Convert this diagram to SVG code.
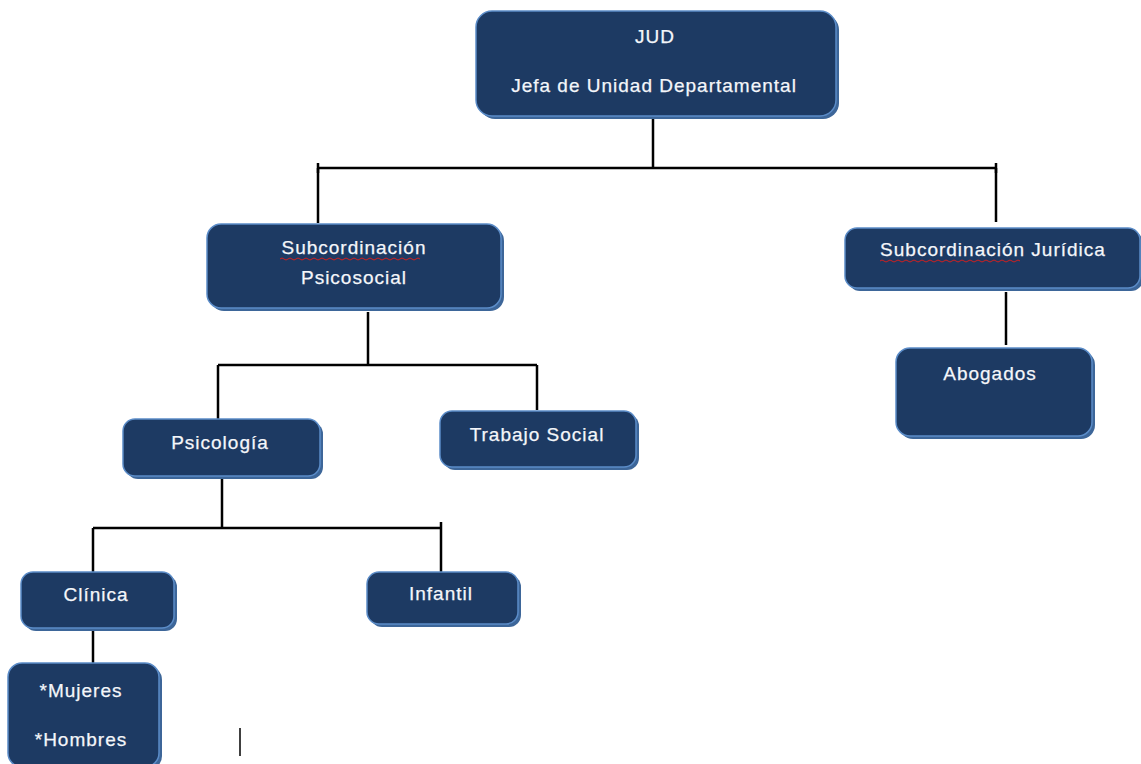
<svg xmlns="http://www.w3.org/2000/svg" width="1141" height="764" viewBox="0 0 1141 764">
<style>
.box{fill:#1d3a63;stroke:#5b8cc8;stroke-width:1.5}
.sh{fill:#3d6699}
.t{font-family:"Liberation Sans",Arial,sans-serif;font-size:19px;letter-spacing:1px;fill:#f4f6fa;stroke:#f4f6fa;stroke-width:0.25;text-anchor:middle}
.c{stroke:#000;stroke-width:2.5;fill:none}
.w{stroke:#d02020;stroke-width:1;fill:none}
</style>
<rect width="1141" height="764" fill="#ffffff"/>
<g id="connectors">
<path class="c" d="M653 116V168M318 168H996M318 168V223M996 168V222"/>
<path class="c" d="M318 163V173M996 163V173"/>
<path class="c" d="M368 312V365M218 365H537M218 365V420M537 365V410"/>
<path class="c" d="M222 478V528M93 528H441M93 528V573M441 522V572"/>
<path class="c" d="M1006 292V345"/>
<path class="c" d="M93 628V664"/>
<path d="M240 728V756" stroke="#000" stroke-width="1.5"/>
</g>
<g id="jud">
<rect class="sh" x="479" y="14" width="360" height="105" rx="16"/>
<rect class="box" x="476" y="11" width="360" height="105" rx="16"/>
<text class="t" x="655" y="43">JUD</text>
<text class="t" x="654" y="92">Jefa de Unidad Departamental</text>
</g>
<g id="psicosocial">
<rect class="sh" x="210" y="227" width="294" height="84" rx="14"/>
<rect class="box" x="207" y="224" width="294" height="84" rx="14"/>
<text class="t" x="354" y="254">Subcordinación</text>
<path class="w" d="M280 259q2 -2 4 0t4 0t4 0t4 0t4 0t4 0t4 0t4 0t4 0t4 0t4 0t4 0t4 0t4 0t4 0t4 0t4 0t4 0t4 0t4 0t4 0t4 0t4 0t4 0t4 0t4 0t4 0t4 0t4 0t4 0t4 0t4 0t4 0t4 0t4 0"/>
<text class="t" x="354" y="284">Psicosocial</text>
</g>
<g id="juridica">
<rect class="sh" x="848" y="231" width="295" height="60" rx="12"/>
<rect class="box" x="845" y="228" width="295" height="60" rx="12"/>
<text class="t" x="993" y="256">Subcordinación Jurídica</text>
<path class="w" d="M880 261q2 -2 4 0t4 0t4 0t4 0t4 0t4 0t4 0t4 0t4 0t4 0t4 0t4 0t4 0t4 0t4 0t4 0t4 0t4 0t4 0t4 0t4 0t4 0t4 0t4 0t4 0t4 0t4 0t4 0t4 0t4 0t4 0t4 0t4 0t4 0t4 0"/>
</g>
<g id="abogados">
<rect class="sh" x="899" y="351" width="196" height="88" rx="14"/>
<rect class="box" x="896" y="348" width="196" height="88" rx="14"/>
<text class="t" x="990" y="380">Abogados</text>
</g>
<g id="psicologia">
<rect class="sh" x="126" y="422" width="197" height="57" rx="12"/>
<rect class="box" x="123" y="419" width="197" height="57" rx="12"/>
<text class="t" x="220" y="449">Psicología</text>
</g>
<g id="trabajo-social">
<rect class="sh" x="443" y="414" width="196" height="56" rx="12"/>
<rect class="box" x="440" y="411" width="196" height="56" rx="12"/>
<text class="t" x="537" y="441">Trabajo Social</text>
</g>
<g id="clinica">
<rect class="sh" x="24" y="575" width="153" height="56" rx="12"/>
<rect class="box" x="21" y="572" width="153" height="56" rx="12"/>
<text class="t" x="96" y="601">Clínica</text>
</g>
<g id="infantil">
<rect class="sh" x="370" y="575" width="151" height="52" rx="12"/>
<rect class="box" x="367" y="572" width="151" height="52" rx="12"/>
<text class="t" x="441" y="600">Infantil</text>
</g>
<g id="mujeres-hombres">
<rect class="sh" x="11" y="666" width="151" height="104" rx="14"/>
<rect class="box" x="8" y="663" width="151" height="104" rx="14"/>
<text class="t" x="81" y="697">*Mujeres</text>
<text class="t" x="81" y="746">*Hombres</text>
</g>
</svg>
